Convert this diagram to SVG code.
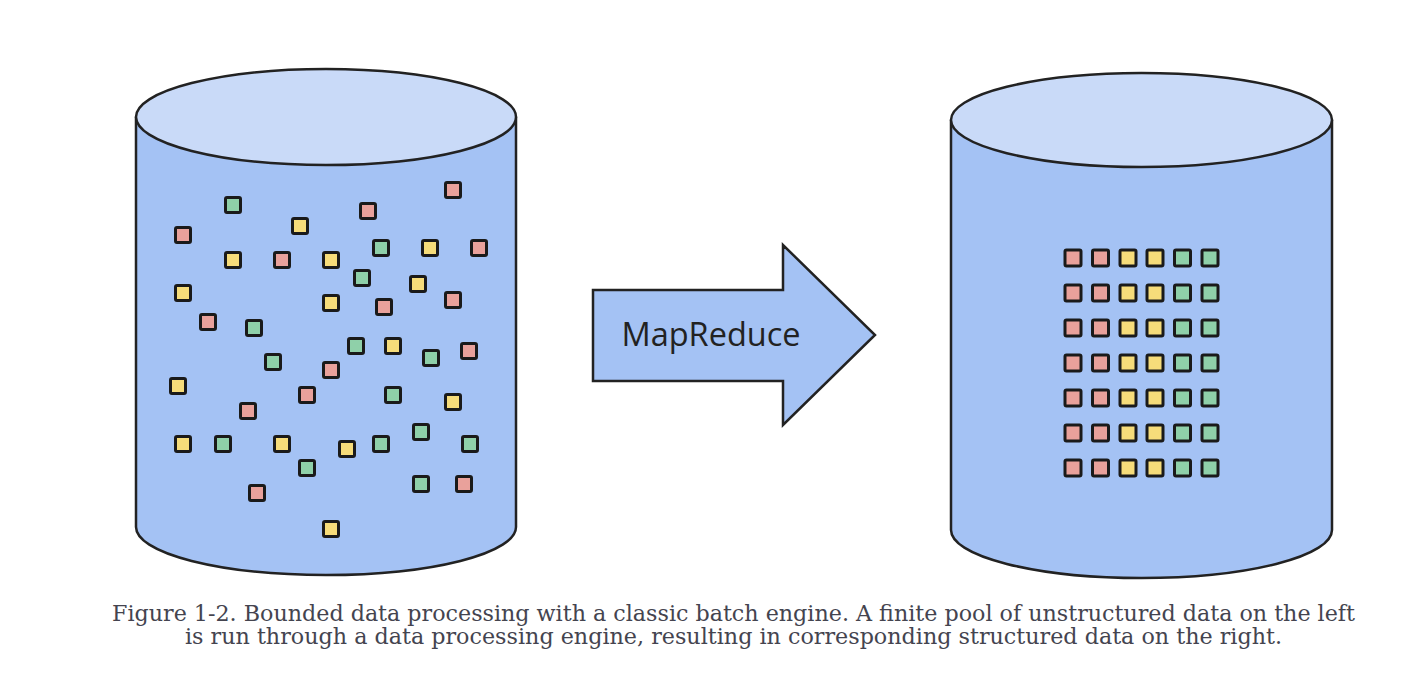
<svg xmlns="http://www.w3.org/2000/svg" width="1402" height="684" viewBox="0 0 1402 684">
<style>
.body{fill:#a4c2f4;stroke:#222;stroke-width:2.5}
.top{fill:#c9daf8;stroke:#222;stroke-width:2.5}
.sq{stroke:#1a1a1a;stroke-width:3}
.r{fill:#e9a19b}
.y{fill:#f6dc7a}
.g{fill:#8fd0a9}
.cap{font-family:"DejaVu Serif","Liberation Serif",serif;font-size:21.5px;fill:#44444f}
</style>
<defs>
<rect id="s" x="-7.5" y="-7.5" width="15" height="15" rx="1.5"/>
<rect id="t" x="-8" y="-8" width="16" height="16" rx="1.5"/>
</defs>
<rect width="1402" height="684" fill="#fff"/>
<g id="left-cylinder">
<path class="body" d="M136,118 L136,527 A190,48 0 0 0 516,527 L516,118 Z"/>
<ellipse class="top" cx="326" cy="117" rx="190" ry="48"/>
<g class="sq">
<use href="#s" class="r" x="453" y="190"/>
<use href="#s" class="g" x="233" y="205"/>
<use href="#s" class="r" x="368" y="211"/>
<use href="#s" class="y" x="300" y="226"/>
<use href="#s" class="r" x="183" y="235"/>
<use href="#s" class="g" x="381" y="248"/>
<use href="#s" class="y" x="430" y="248"/>
<use href="#s" class="r" x="479" y="248"/>
<use href="#s" class="y" x="233" y="260"/>
<use href="#s" class="r" x="282" y="260"/>
<use href="#s" class="y" x="331" y="260"/>
<use href="#s" class="g" x="362" y="278"/>
<use href="#s" class="y" x="418" y="284"/>
<use href="#s" class="y" x="183" y="293"/>
<use href="#s" class="y" x="331" y="303"/>
<use href="#s" class="r" x="384" y="307"/>
<use href="#s" class="r" x="453" y="300"/>
<use href="#s" class="r" x="208" y="322"/>
<use href="#s" class="g" x="254" y="328"/>
<use href="#s" class="g" x="356" y="346"/>
<use href="#s" class="y" x="393" y="346"/>
<use href="#s" class="g" x="431" y="358"/>
<use href="#s" class="r" x="469" y="351"/>
<use href="#s" class="g" x="273" y="362"/>
<use href="#s" class="r" x="331" y="370"/>
<use href="#s" class="y" x="178" y="386"/>
<use href="#s" class="r" x="307" y="395"/>
<use href="#s" class="g" x="393" y="395"/>
<use href="#s" class="y" x="453" y="402"/>
<use href="#s" class="r" x="248" y="411"/>
<use href="#s" class="y" x="183" y="444"/>
<use href="#s" class="g" x="223" y="444"/>
<use href="#s" class="y" x="282" y="444"/>
<use href="#s" class="y" x="347" y="449"/>
<use href="#s" class="g" x="381" y="444"/>
<use href="#s" class="g" x="421" y="432"/>
<use href="#s" class="g" x="470" y="444"/>
<use href="#s" class="g" x="307" y="468"/>
<use href="#s" class="r" x="257" y="493"/>
<use href="#s" class="g" x="421" y="484"/>
<use href="#s" class="r" x="464" y="484"/>
<use href="#s" class="y" x="331" y="529"/>
</g>
</g>
<g id="arrow">
<path d="M593,290 L783,290 L783,245 L875,335 L783,425 L783,381 L593,381 Z" fill="#a4c2f4" stroke="#222" stroke-width="2.5" stroke-linejoin="miter"/>
<text x="711" y="346" text-anchor="middle" font-family="'Open Sans','Noto Sans',sans-serif" font-size="32.5" fill="#222">MapReduce</text>
</g>
<g id="right-cylinder">
<path class="body" d="M951,121 L951,530 A190.5,48 0 0 0 1332,530 L1332,121 Z"/>
<ellipse class="top" cx="1141.5" cy="120" rx="190.5" ry="47"/>
<g class="sq" id="grid">
<g id="row1" transform="translate(0,258)">
<use href="#t" class="r" x="1073"/><use href="#t" class="r" x="1100.5"/><use href="#t" class="y" x="1128"/><use href="#t" class="y" x="1155"/><use href="#t" class="g" x="1182.5"/><use href="#t" class="g" x="1210"/>
</g>
<use href="#row1" y="35"/>
<use href="#row1" y="70"/>
<use href="#row1" y="105"/>
<use href="#row1" y="140"/>
<use href="#row1" y="175"/>
<use href="#row1" y="210"/>
</g>
</g>
<g id="caption">
<text class="cap" x="733.5" y="620.5" text-anchor="middle" textLength="1243" lengthAdjust="spacingAndGlyphs">Figure 1-2. Bounded data processing with a classic batch engine. A finite pool of unstructured data on the left</text>
<text class="cap" x="733.5" y="643.5" text-anchor="middle" textLength="1097" lengthAdjust="spacingAndGlyphs">is run through a data processing engine, resulting in corresponding structured data on the right.</text>
</g>
</svg>
